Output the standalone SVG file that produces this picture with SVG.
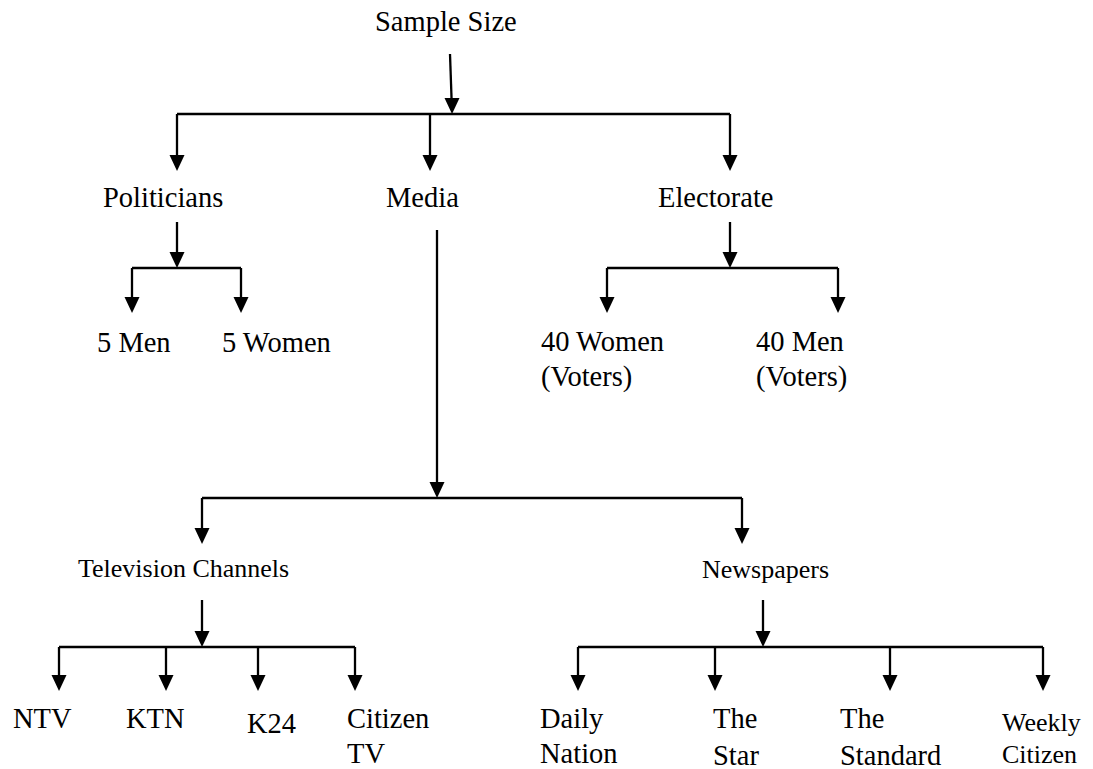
<svg xmlns="http://www.w3.org/2000/svg" width="1093" height="769" viewBox="0 0 1093 769">
<style>
text{font-family:"Liberation Serif","Times New Roman",serif;font-size:28.5px;fill:#000}
.sm{font-size:26px}
.c{stroke:#000;stroke-width:2.3;fill:none}
.h{fill:#000}
</style>
<rect width="1093" height="769" fill="#fff"/>
<g id="connectors">
<path class="c" d="M450,54 L451.6,100"/>
<path class="c" d="M177,114 H730"/>
<path class="c" d="M177,114 V157"/>
<path class="c" d="M430,114 V157"/>
<path class="c" d="M730,114 V157"/>
<path class="c" d="M177,222 V254"/>
<path class="c" d="M132,268 H241"/>
<path class="c" d="M132,268 V299"/>
<path class="c" d="M241,268 V299"/>
<path class="c" d="M730,222 V254"/>
<path class="c" d="M607,268 H838"/>
<path class="c" d="M607,268 V299"/>
<path class="c" d="M838,268 V299"/>
<path class="c" d="M437,230 V484"/>
<path class="c" d="M202,498 H742"/>
<path class="c" d="M202,498 V530"/>
<path class="c" d="M742,498 V530"/>
<path class="c" d="M202,600 V633"/>
<path class="c" d="M59,647 H355"/>
<path class="c" d="M59,647 V677"/>
<path class="c" d="M166,647 V677"/>
<path class="c" d="M258,647 V677"/>
<path class="c" d="M355,647 V677"/>
<path class="c" d="M763,600 V633"/>
<path class="c" d="M578,647 H1043"/>
<path class="c" d="M578,647 V677"/>
<path class="c" d="M715,647 V677"/>
<path class="c" d="M890,647 V677"/>
<path class="c" d="M1043,647 V677"/>
<g class="h">
<polygon points="444.5,98 459.5,98 452,114"/>
<polygon points="169.5,155 184.5,155 177,171"/>
<polygon points="422.5,155 437.5,155 430,171"/>
<polygon points="722.5,155 737.5,155 730,171"/>
<polygon points="169.5,252 184.5,252 177,268"/>
<polygon points="124.5,297 139.5,297 132,313"/>
<polygon points="233.5,297 248.5,297 241,313"/>
<polygon points="722.5,252 737.5,252 730,268"/>
<polygon points="599.5,297 614.5,297 607,313"/>
<polygon points="830.5,297 845.5,297 838,313"/>
<polygon points="429.5,482 444.5,482 437,498"/>
<polygon points="194.5,528 209.5,528 202,544"/>
<polygon points="734.5,528 749.5,528 742,544"/>
<polygon points="194.5,631 209.5,631 202,647"/>
<polygon points="51.5,675 66.5,675 59,691"/>
<polygon points="158.5,675 173.5,675 166,691"/>
<polygon points="250.5,675 265.5,675 258,691"/>
<polygon points="347.5,675 362.5,675 355,691"/>
<polygon points="755.5,631 770.5,631 763,647"/>
<polygon points="570.5,675 585.5,675 578,691"/>
<polygon points="707.5,675 722.5,675 715,691"/>
<polygon points="882.5,675 897.5,675 890,691"/>
<polygon points="1035.5,675 1050.5,675 1043,691"/>
</g>
</g>
<g id="sample-size"><text x="375" y="31">Sample Size</text></g>
<g id="politicians"><text x="103" y="207">Politicians</text></g>
<g id="media"><text x="386" y="207">Media</text></g>
<g id="electorate"><text x="658" y="207">Electorate</text></g>
<g id="men5"><text x="97" y="352">5 Men</text></g>
<g id="women5"><text x="222" y="352">5 Women</text></g>
<g id="women40"><text x="541" y="351">40 Women</text><text x="541" y="386">(Voters)</text></g>
<g id="men40"><text x="756" y="351">40 Men</text><text x="756" y="386">(Voters)</text></g>
<g id="tv"><text class="sm" x="78" y="577">Television Channels</text></g>
<g id="newspapers"><text class="sm" x="702" y="578">Newspapers</text></g>
<g id="ntv"><text x="13" y="728">NTV</text></g>
<g id="ktn"><text x="126" y="728">KTN</text></g>
<g id="k24"><text x="247" y="733">K24</text></g>
<g id="citizentv"><text x="347" y="728">Citizen</text><text x="347" y="763">TV</text></g>
<g id="dailynation"><text x="540" y="728">Daily</text><text x="540" y="763">Nation</text></g>
<g id="thestar"><text x="713" y="728">The</text><text x="713" y="765">Star</text></g>
<g id="thestandard"><text x="840" y="728">The</text><text x="840" y="765">Standard</text></g>
<g id="weeklycitizen"><text class="sm" x="1002" y="731">Weekly</text><text class="sm" x="1002" y="763">Citizen</text></g>
</svg>
